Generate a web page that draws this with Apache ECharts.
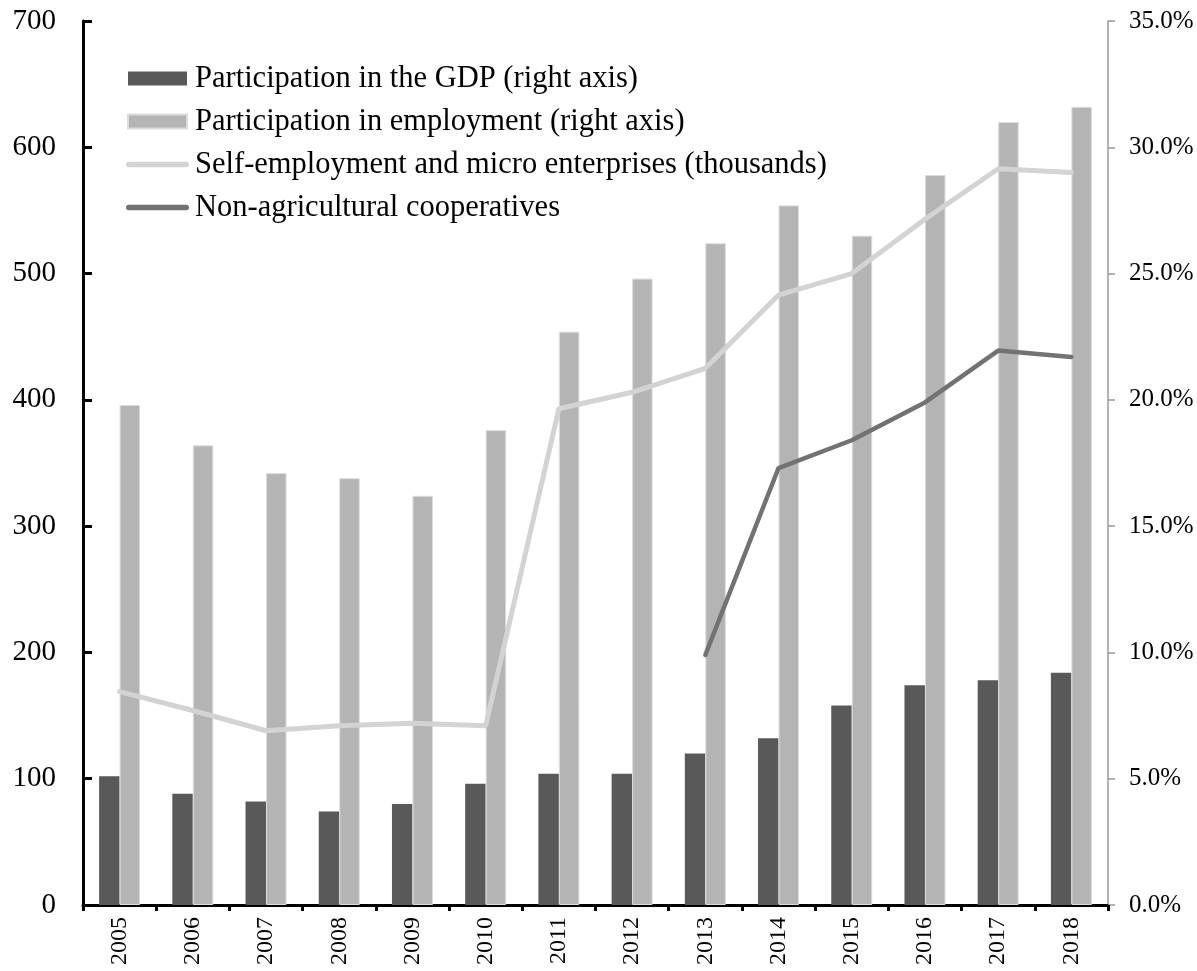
<!DOCTYPE html>
<html>
<head>
<meta charset="utf-8">
<script src="https://cdn.jsdelivr.net/npm/echarts@6/dist/echarts.min.js"></script>
<style>
  html, body { margin: 0; padding: 0; background: #fff; }
  #chart { width: 1197px; height: 971px; }
</style>
</head>
<body>
<div id="chart"></div>
<script>
const years = ['2005','2006','2007','2008','2009','2010','2011','2012','2013','2014','2015','2016','2017','2018'];
const gdpShare = [5.1, 4.4, 4.1, 3.7, 4.0, 4.8, 5.2, 5.2, 6.0, 6.6, 7.9, 8.7, 8.9, 9.2];
const employmentShare = [19.8, 18.2, 17.1, 16.9, 16.2, 18.8, 22.7, 24.8, 26.2, 27.7, 26.5, 28.9, 31.0, 31.6];
const selfEmployment = [169, 154, 138, 142, 144, 142, 393, 406, 425, 483, 500, 543, 583, 580];
const cooperatives = [null, null, null, null, null, null, null, null, 198, 346, 368, 398, 439, 434];
const leftTicks = { min: 0, max: 700, interval: 100 };
const rightTicks = { min: 0, max: 35, interval: 5 };

const serif = '"Liberation Serif", "Times New Roman", serif';
const lineIcon = 'path://M2.75,0H60.25A2.75,2.75,0,0,1,60.25,5.5H2.75A2.75,2.75,0,0,1,2.75,0Z';
const chart = echarts.init(document.getElementById('chart'));
chart.setOption({
  animation: false,
  backgroundColor: '#fff',
  textStyle: { fontFamily: serif, color: '#000' },
  grid: { left: 83, right: 89, top: 21, bottom: 66, containLabel: false },
  legend: {
    orient: 'vertical',
    left: 121,
    top: 58,
    itemWidth: 63,
    itemHeight: 14,
    itemGap: 12,
    symbolKeepAspect: true,
    textStyle: { fontFamily: serif, fontSize: 30.5, color: '#000', padding: [0, 0, 0, 1] },
    data: [
      { name: 'Participation in the GDP (right axis)', icon: 'path://M0,0H59V14H0Z' },
      { name: 'Participation in employment (right axis)', icon: 'path://M0,0H59V14H0Z' },
      { name: 'Self-employment and micro enterprises (thousands)', icon: lineIcon },
      { name: 'Non-agricultural cooperatives', icon: lineIcon }
    ]
  },
  xAxis: {
    type: 'category',
    data: years,
    axisLine: { lineStyle: { color: '#000', width: 3 } },
    axisTick: { show: true, inside: false, length: 6, lineStyle: { color: '#000', width: 3 } },
    axisLabel: { rotate: 90, fontFamily: serif, fontSize: 24, color: '#000', margin: 12 },
    splitLine: { show: false }
  },
  yAxis: [
    {
      type: 'value',
      min: leftTicks.min, max: leftTicks.max, interval: leftTicks.interval,
      axisLine: { show: true, lineStyle: { color: '#000', width: 3 } },
      axisTick: { show: true, inside: true, length: 9, lineStyle: { color: '#000', width: 3 } },
      axisLabel: { fontFamily: serif, fontSize: 29, color: '#000', margin: 27 },
      splitLine: { show: false }
    },
    {
      type: 'value',
      position: 'right',
      min: rightTicks.min, max: rightTicks.max, interval: rightTicks.interval,
      axisLine: { show: true, lineStyle: { color: '#999', width: 1.5 } },
      axisTick: { show: true, inside: false, length: 7, lineStyle: { color: '#999', width: 1.5 } },
      axisLabel: { fontFamily: serif, fontSize: 25, color: '#000', margin: 21,
        formatter: v => v.toFixed(1) + '%' },
      splitLine: { show: false }
    }
  ],
  series: [
    {
      name: 'Participation in the GDP (right axis)',
      type: 'bar',
      yAxisIndex: 1,
      data: gdpShare,
      barWidth: '28%',
      barGap: '0%',
      itemStyle: { color: '#595959' },
      z: 2
    },
    {
      name: 'Participation in employment (right axis)',
      type: 'bar',
      yAxisIndex: 1,
      data: employmentShare,
      barWidth: '28%',
      barGap: '0%',
      itemStyle: { color: '#b4b4b4', borderColor: '#dcdcdc', borderWidth: 1 },
      z: 2
    },
    {
      name: 'Self-employment and micro enterprises (thousands)',
      type: 'line',
      yAxisIndex: 0,
      data: selfEmployment,
      symbol: 'none',
      lineStyle: { color: '#d3d3d3', width: 5, cap: 'round' },
      itemStyle: { color: '#d3d3d3' },
      z: 3
    },
    {
      name: 'Non-agricultural cooperatives',
      type: 'line',
      yAxisIndex: 0,
      data: cooperatives,
      symbol: 'none',
      connectNulls: false,
      lineStyle: { color: '#767171', width: 4.5, cap: 'round' },
      itemStyle: { color: '#767171' },
      z: 4
    }
  ]
});
</script>
</body>
</html>
